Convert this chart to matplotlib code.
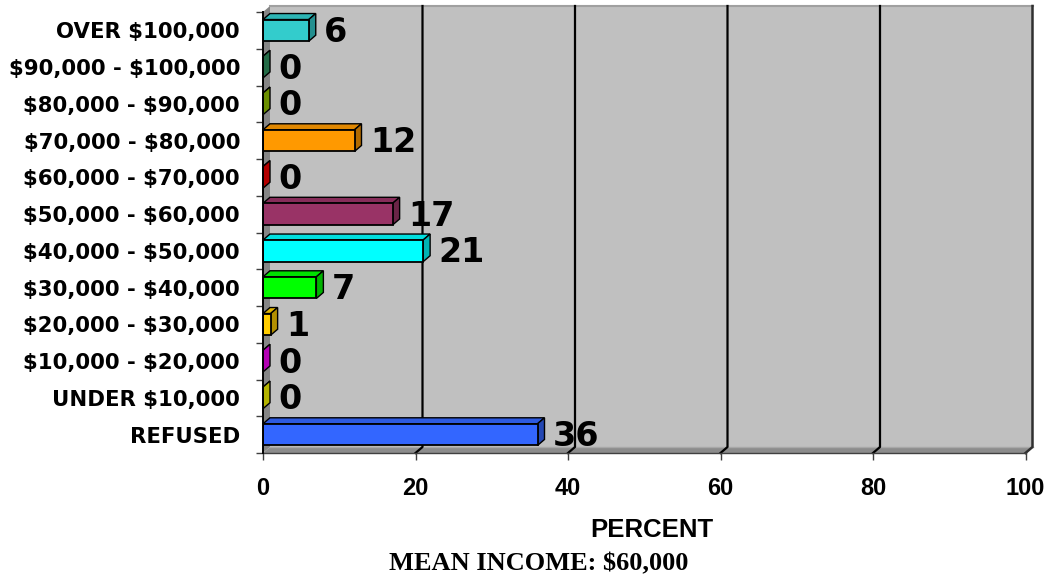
import matplotlib
matplotlib.use("Agg")
import matplotlib.pyplot as plt
from matplotlib.patches import Polygon
import numpy as np

plt.rcParams["text.parse_math"] = False

categories = ["OVER $100,000", "$90,000 - $100,000", "$80,000 - $90,000",
              "$70,000 - $80,000", "$60,000 - $70,000", "$50,000 - $60,000",
              "$40,000 - $50,000", "$30,000 - $40,000", "$20,000 - $30,000",
              "$10,000 - $20,000", "UNDER $10,000", "REFUSED"]
values = [6, 0, 0, 12, 0, 17, 21, 7, 1, 0, 0, 36]
colors = ["#33CCCC", "#339966", "#99CC00", "#FF9900", "#FF0000", "#993366",
          "#00FFFF", "#00FF00", "#FFCC00", "#FF00FF", "#FFFF00", "#3366FF"]
xticks = [0, 20, 40, 60, 80, 100]
xlabel = "PERCENT"
footer = "MEAN INCOME: $60,000"

W, H = 1052, 581
fig = plt.figure(figsize=(W / 100, H / 100), dpi=100)
ax = fig.add_axes([263 / W, 1 - 453 / H, (1025.5 - 263) / W, (453 - 12) / H])
ax.set_xlim(0, 100)
ax.set_ylim(-0.5, len(categories) - 0.5)
ax.patch.set_visible(False)

n = len(categories)
ypos = np.arange(n)[::-1]  # first category on top
DX = 7 / 7.625           # depth offset in data units (x)
DY = 6 / 36.75           # depth offset in data units (y)
BH = 0.59
ytop = n - 0.5
ybot = -0.5

def shade(c, f):
    r, g, b = matplotlib.colors.to_rgb(c)
    return (r * f, g * f, b * f)

# walls
ax.add_patch(Polygon([(DX, ybot + DY), (100 + DX, ybot + DY), (100 + DX, ytop + DY), (DX, ytop + DY)],
                     closed=True, facecolor="#C0C0C0", edgecolor="none", clip_on=False, zorder=0))
ax.add_patch(Polygon([(0, ybot), (DX, ybot + DY), (DX, ytop + DY), (0, ytop)],
                     closed=True, facecolor="#858585", edgecolor="none", clip_on=False, zorder=0.5))
ax.add_patch(Polygon([(0, ybot), (100, ybot), (100 + DX, ybot + DY), (DX, ybot + DY)],
                     closed=True, facecolor="#8C8C8C", edgecolor="none", clip_on=False, zorder=0.5))
ax.plot([DX, 100 + DX], [ytop + DY, ytop + DY], color="#A0A0A0", lw=1.5, clip_on=False, zorder=0.6)
ax.plot([DX, 100 + DX], [ybot + DY, ybot + DY], color="#A8A8A8", lw=1.0, clip_on=False, zorder=0.6)
for v in xticks[1:-1]:
    ax.plot([v, v + DX, v + DX], [ybot, ybot + DY, ytop + DY], color="black", lw=1.6,
            clip_on=False, zorder=0.8)
ax.plot([100, 100 + DX, 100 + DX], [ybot, ybot + DY, ytop + DY], color="#303030", lw=1.8,
        clip_on=False, zorder=0.8)

# bars
ax.barh(ypos, values, height=BH, color=colors, edgecolor="black", linewidth=1.3, zorder=3)
for y, v, c in zip(ypos, values, colors):
    y0, y1 = y - BH / 2, y + BH / 2
    ax.add_patch(Polygon([(0, y1), (v, y1), (v + DX, y1 + DY), (DX, y1 + DY)], closed=True,
                         facecolor=shade(c, 0.88), edgecolor="black", lw=1.0, clip_on=False, zorder=2.9))
    ax.add_patch(Polygon([(v, y0), (v + DX, y0 + DY), (v + DX, y1 + DY), (v, y1)], closed=True,
                         facecolor=shade(c, 0.7), edgecolor="black", lw=1.0, clip_on=False, zorder=2.9))
    ax.annotate(f"{v}", xy=(v + DX, y), xytext=(6, -1.5), textcoords="offset points",
                ha="left", va="center", fontsize=24, fontweight="bold",
                family="DejaVu Sans", color="black", zorder=5, annotation_clip=False)

# spines & ticks
for s in ["top", "right"]:
    ax.spines[s].set_visible(False)
ax.spines["left"].set_color("black")
ax.spines["left"].set_linewidth(1.4)
ax.spines["left"].set_zorder(4)
ax.spines["bottom"].set_color("#404040")
ax.spines["bottom"].set_linewidth(1.0)

ax.set_yticks(np.arange(-0.5, n, 1.0))
ax.set_yticklabels([])
ax.set_yticks(ypos, minor=True)
ax.set_yticklabels(categories, minor=True, fontsize=15.3, fontweight="bold", family="DejaVu Sans")
ax.tick_params(axis="y", which="major", length=5, width=1, color="#404040", direction="out")
ax.tick_params(axis="y", which="minor", length=0, pad=16.5)

ax.set_xticks(xticks)
ax.set_xticklabels([str(t) for t in xticks], fontsize=17, fontweight="bold", family="Liberation Sans")
ax.tick_params(axis="x", length=5, width=1, color="#404040", direction="out", pad=12)

fig.text(652 / W, 1 - 530 / H, xlabel, ha="center", va="center", fontsize=18.5,
         fontweight="bold", family="Liberation Sans")
fig.text(539 / W, 1 - 564 / H, footer, ha="center", va="center", fontsize=19,
         fontweight="bold", family="Liberation Serif")

fig.savefig("out.png", dpi=100)
